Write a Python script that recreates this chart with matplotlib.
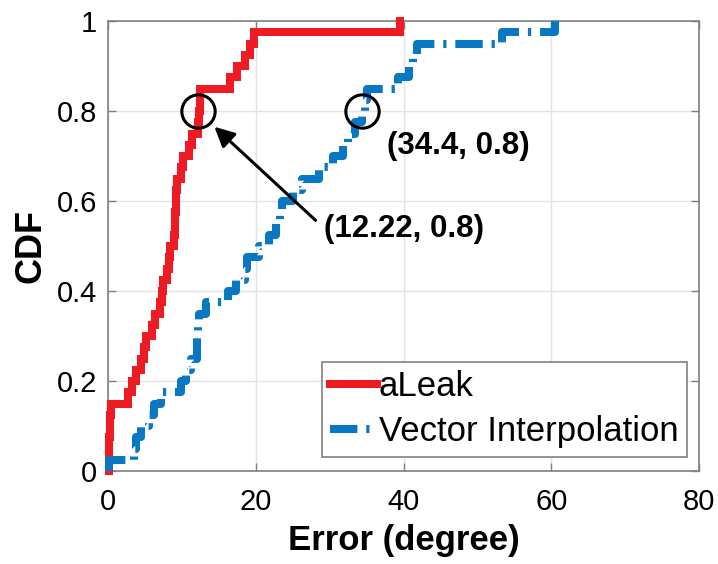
import numpy as np
import matplotlib
matplotlib.use("Agg")
import matplotlib.pyplot as plt

plt.rcParams['font.family'] = ['Liberation Sans', 'DejaVu Sans']

# Sorted error samples (degree)
aleak_err = [0.1, 0.15, 0.2, 0.25, 0.3, 0.35,
             2.7, 3.3, 3.8,
             4.5, 4.9, 5.2,
             6.0, 6.3,
             7.0, 7.3, 7.5,
             8.0, 8.2, 8.4,
             9.0, 9.05, 9.1, 9.15, 9.2, 9.3,
             9.9, 10.1,
             11.0, 11.4,
             12.22, 12.3, 12.4, 12.5,
             16.5, 17.5, 18.5, 19.2, 19.8,
             39.5]
vector_err = [0.2,
              3.5, 3.8, 4.5, 5.5, 6.2, 7.2, 9.9, 10.5, 11.3,
              12.0, 12.1, 12.2, 12.3, 13.3, 16.3, 17.3, 18.5, 18.8,
              20.5, 21.8, 22.7, 23.3, 23.6, 25.0, 26.2, 28.6, 30.4,
              31.8, 32.5, 33.5, 34.4, 34.8, 35.0, 39.3, 40.8, 41.3, 41.8,
              53.4, 60.5]
labels = ['aLeak', 'Vector Interpolation']
marked_points = [(12.22, 0.8), (34.4, 0.8)]
x_ticks = [0, 20, 40, 60, 80]
y_ticks = [0, 0.2, 0.4, 0.6, 0.8, 1]
y_tick_labels = ['0', '0.2', '0.4', '0.6', '0.8', '1']

red = '#ED1C24'
blue = '#0878C3'


def cdf_xy(err):
    e = np.sort(np.asarray(err, dtype=float))
    n = len(e)
    x = np.r_[e[0], e]
    y = np.r_[0.0, np.arange(1, n + 1) / n]
    return x, y


fig = plt.figure(figsize=(7.18, 5.64), dpi=100)
ax = fig.add_axes([108 / 718, 1 - 471 / 564, 591 / 718, 450 / 564])

x1, y1 = cdf_xy(aleak_err)
x2, y2 = cdf_xy(vector_err)
ax.step(x1, y1, where='post', color=red, lw=5.8, label=labels[0],
        clip_on=False, zorder=3, solid_joinstyle='miter')
l2, = ax.step(x2, y2, where='post', color=blue, lw=5.8, label=labels[1],
              clip_on=False, zorder=3)
l2.set_dashes([3.4, 1.1, 0.4, 1.1])

# Annotation circles
for (px, py) in marked_points:
    ax.plot([px], [py], 'o', ms=24, mfc='none', mec='black', mew=2.2, zorder=5)

ax.annotate('', xy=(14.4, 0.765), xytext=(28.1, 0.557),
            arrowprops=dict(arrowstyle='-|>', color='black', lw=2.2,
                            mutation_scale=30, shrinkA=0, shrinkB=0), zorder=6)
ax.text(29.2, 0.538, '(12.22, 0.8)', fontsize=22.5, fontweight='bold',
        ha='left', va='center')
ax.text(37.7, 0.723, '(34.4, 0.8)', fontsize=22.5, fontweight='bold',
        ha='left', va='center')

ax.set_xlim(0, 80)
ax.set_ylim(0, 1)
ax.set_xticks(x_ticks)
ax.set_yticks(y_ticks)
ax.set_yticklabels(y_tick_labels)
ax.grid(True, color='#e3e3e3', lw=1.0)
ax.set_axisbelow(True)
for s in ax.spines.values():
    s.set_color('#808080')
    s.set_linewidth(1.2)
ax.tick_params(direction='in', length=6, width=1.0, color='#808080',
               labelsize=21, top=True, right=True)
ax.tick_params(axis='x', pad=12)
ax.tick_params(axis='y', pad=8)

ax.set_xlabel('Error (degree)', fontsize=25, fontweight='bold', labelpad=6)
ax.set_ylabel('CDF', fontsize=26, fontweight='bold', labelpad=6)

leg = ax.legend(loc='lower right', bbox_to_anchor=(0.98, 0.031),
                fontsize=25, frameon=True, fancybox=False,
                edgecolor='#808080', framealpha=1, handlelength=1.35,
                handletextpad=0.05, borderpad=0.25, labelspacing=0.35,
                borderaxespad=0.0)
leg.get_frame().set_linewidth(1.2)

fig.savefig('out.png', dpi=100)
